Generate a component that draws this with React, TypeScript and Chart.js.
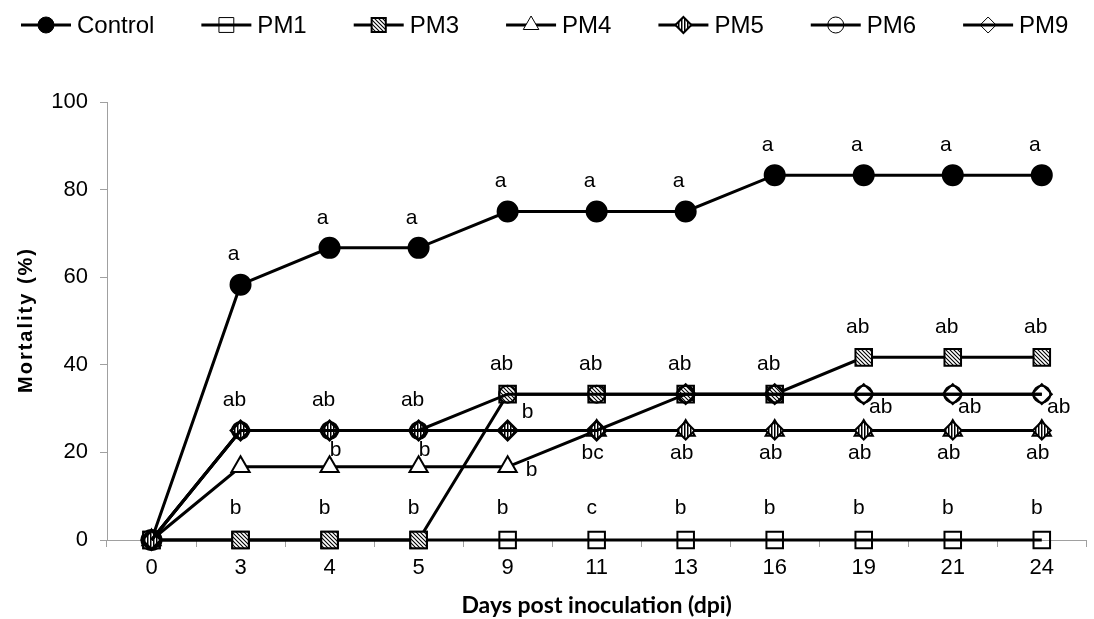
import React, { useEffect, useRef } from 'react';
import { Chart, registerables } from 'chart.js';

Chart.register(...registerables);

// ---------- data ----------
const categories = ['0', '3', '4', '5', '9', '11', '13', '16', '19', '21', '24'];
const seriesNames = ['Control', 'PM1', 'PM3', 'PM4', 'PM5', 'PM6', 'PM9'];
const control = [0, 58.3, 66.7, 66.7, 75, 75, 75, 83.3, 83.3, 83.3, 83.3];
const pm1 = [0, 0, 0, 0, 0, 0, 0, 0, 0, 0, 0];
const pm3 = [0, 0, 0, 0, 33.3, 33.3, 33.3, 33.3, 41.7, 41.7, 41.7];
const pm4 = [0, 16.7, 16.7, 16.7, 16.7, 25, 25, 25, 25, 25, 25];
const pm5 = [0, 25, 25, 25, 25, 25, 25, 25, 25, 25, 25];
const pm6 = [0, 25, 25, 25, 33.3, 33.3, 33.3, 33.3, 33.3, 33.3, 33.3];
const pm9 = [0, 25, 25, 25, 25, 25, 33.3, 33.3, 33.3, 33.3, 33.3];
const yTicks = [0, 20, 40, 60, 80, 100];

// significance letters (one entry per category)
const lettersControl = ['', 'a', 'a', 'a', 'a', 'a', 'a', 'a', 'a', 'a', 'a'];
const lettersTop = ['', 'ab', 'ab', 'ab', 'ab', 'ab', 'ab', 'ab', 'ab', 'ab', 'ab'];
const lettersZero = ['', 'b', 'b', 'b', 'b', 'c', 'b', 'b', 'b', 'b', 'b'];
const lettersPM4Upper = ['', '', 'b', 'b', '', '', '', '', '', '', ''];
const lettersPM5Right = ['', '', '', '', 'b', '', '', '', '', '', ''];
const lettersPM4Right = ['', '', '', '', 'b', '', '', '', '', '', ''];
const lettersPM5Below = ['', '', '', '', '', 'bc', 'ab', 'ab', 'ab', 'ab', 'ab'];
const lettersPM9Below = ['', '', '', '', '', '', '', '', 'ab', 'ab', 'ab'];

const xTitle = 'Days post inoculation (dpi)';
const yTitle = 'Mortality (%)';

const seriesValues = [control, pm1, pm3, pm4, pm5, pm6, pm9];

const FONT = '"Liberation Sans", Arial, sans-serif';

function makePattern(kind: string): CanvasPattern | string {
  const c = document.createElement('canvas');
  const g = c.getContext('2d');
  if (!g) return '#888';
  if (kind === 'diag') {
    c.width = 4; c.height = 4;
    g.fillStyle = '#fff'; g.fillRect(0, 0, 4, 4);
    g.strokeStyle = '#000'; g.lineWidth = 1.1;
    g.beginPath();
    g.moveTo(-1, -1); g.lineTo(5, 5);
    g.moveTo(3, -1); g.lineTo(5, 1);
    g.moveTo(-1, 3); g.lineTo(1, 5);
    g.stroke();
  } else {
    c.width = 3; c.height = 3;
    g.fillStyle = '#fff'; g.fillRect(0, 0, 3, 3);
    g.fillStyle = '#000'; g.fillRect(0, 0, 1.5, 3);
  }
  return g.createPattern(c, 'repeat') || '#888';
}

function drawMarker(ctx: CanvasRenderingContext2D, style: string, x: number, y: number, r: number, fill: any, lw: number) {
  ctx.save();
  ctx.beginPath();
  if (style === 'circle') {
    ctx.arc(x, y, r, 0, Math.PI * 2);
  } else if (style === 'rect') {
    const s = r * Math.SQRT1_2;
    ctx.rect(x - s, y - s, 2 * s, 2 * s);
  } else if (style === 'rectRot') {
    ctx.moveTo(x, y - r); ctx.lineTo(x + r, y); ctx.lineTo(x, y + r); ctx.lineTo(x - r, y); ctx.closePath();
  } else if (style === 'triangle') {
    ctx.moveTo(x, y - r);
    ctx.lineTo(x + r * Math.sin(Math.PI * 2 / 3), y - r * Math.cos(Math.PI * 2 / 3));
    ctx.lineTo(x - r * Math.sin(Math.PI * 2 / 3), y - r * Math.cos(Math.PI * 2 / 3));
    ctx.closePath();
  }
  if (fill && fill !== 'transparent') { ctx.fillStyle = fill; ctx.fill(); }
  ctx.lineWidth = lw; ctx.strokeStyle = '#000'; ctx.stroke();
  ctx.restore();
}

export default function App() {
  const ref = useRef<HTMLCanvasElement>(null);

  useEffect(() => {
    const canvas = ref.current;
    if (!canvas) return;
    const diag = makePattern('diag');
    const vert = makePattern('vert');

    const markerStyles = [
      { style: 'circle', r: 10, fill: '#000', lr: 8, llw: 1 },
      { style: 'rect', r: 11.7, fill: 'transparent', lr: 10.5, llw: 1 },
      { style: 'rect', r: 11.7, fill: diag, lr: 10, llw: 2 },
      { style: 'triangle', r: 10.5, fill: '#fff', lr: 9, llw: 1 },
      { style: 'rectRot', r: 9, fill: vert, lr: 8, llw: 2 },
      { style: 'circle', r: 8.5, fill: 'transparent', lr: 8, llw: 1 },
      { style: 'rectRot', r: 10, fill: 'transparent', lr: 8, llw: 1 },
    ];

    const datasets = seriesNames.map((name, i) => ({
      label: name,
      data: seriesValues[i],
      borderColor: '#000',
      borderWidth: 3,
      tension: 0,
      fill: false,
      clip: false as any,
      order: -i,
      pointStyle: markerStyles[i].style as any,
      pointRadius: markerStyles[i].r,
      pointBackgroundColor: markerStyles[i].fill as any,
      pointBorderColor: '#000',
      pointBorderWidth: 2,
      pointHoverRadius: markerStyles[i].r,
    }));

    const topOf = (i: number) => Math.max(pm1[i], pm3[i], pm4[i], pm5[i], pm6[i], pm9[i]);

    const letterRows = [
      { texts: lettersControl, anchor: (i: number) => control[i], dx: -7, dy: -30 },
      { texts: lettersTop, anchor: topOf, dx: -6, dy: -30 },
      { texts: lettersZero, anchor: (i: number) => pm1[i], dx: -5, dy: -32 },
      { texts: lettersPM4Upper, anchor: (i: number) => pm4[i], dx: 6, dy: -17 },
      { texts: lettersPM5Right, anchor: (i: number) => pm5[i], dx: 20, dy: -18 },
      { texts: lettersPM4Right, anchor: (i: number) => pm4[i], dx: 24, dy: 3 },
      { texts: lettersPM5Below, anchor: (i: number) => pm5[i], dx: -4, dy: 23 },
      { texts: lettersPM9Below, anchor: (i: number) => pm9[i], dx: 17, dy: 13 },
    ];

    const lettersPlugin = {
      id: 'letters',
      afterDatasetsDraw(chart: any) {
        const { ctx, scales } = chart;
        const xs = scales.x, ys = scales.y;
        ctx.save();
        ctx.font = `21px ${FONT}`;
        ctx.textAlign = 'center';
        ctx.textBaseline = 'middle';
        ctx.fillStyle = '#000';
        letterRows.forEach((row) => {
          row.texts.forEach((t, i) => {
            if (!t) return;
            const px = xs.getPixelForValue(i);
            const py = ys.getPixelForValue(row.anchor(i));
            ctx.fillText(t, px + row.dx, py + row.dy);
          });
        });
        ctx.restore();
      },
    };

    const decorPlugin = {
      id: 'decor',
      afterDraw(chart: any) {
        const { ctx, chartArea } = chart;
        ctx.save();
        // legend
        ctx.font = `24px ${FONT}`;
        ctx.textBaseline = 'middle';
        ctx.textAlign = 'left';
        let x0 = 21;
        const ly = 25;
        seriesNames.forEach((name, i) => {
          ctx.strokeStyle = '#000';
          ctx.lineWidth = 3;
          ctx.beginPath();
          ctx.moveTo(x0, ly); ctx.lineTo(x0 + 50, ly); ctx.stroke();
          const m = markerStyles[i];
          drawMarker(ctx, m.style, x0 + 25, ly, m.lr, m.fill, m.llw);
          ctx.fillStyle = '#000';
          ctx.fillText(name, x0 + 56, ly + 1);
          x0 = x0 + 56 + ctx.measureText(name).width + 47;
        });
        // x title
        ctx.font = `bold 23px Lato, "Open Sans", sans-serif`;
        ctx.textAlign = 'center';
        ctx.fillText(xTitle, (chartArea.left + chartArea.right) / 2, 606);
        // y title
        ctx.translate(26, (chartArea.top + chartArea.bottom) / 2);
        ctx.rotate(-Math.PI / 2);
        ctx.font = `bold 20px ${FONT}`;
        (ctx as any).letterSpacing = '2px';
        ctx.fillText(yTitle, 1, 0);
        ctx.restore();
      },
    };

    const chart = new Chart(canvas, {
      type: 'line',
      data: { labels: categories, datasets: datasets as any },
      options: {
        responsive: false,
        animation: false,
        events: [],
        layout: { padding: { top: 102, right: 2, left: 0, bottom: 0 } },
        plugins: { legend: { display: false }, tooltip: { enabled: false } },
        scales: {
          x: {
            type: 'category',
            offset: true,
            grid: { offset: true, drawOnChartArea: false, drawTicks: true, tickLength: 7, color: '#a0a0a0' },
            border: { color: '#a0a0a0', width: 1 },
            ticks: { font: { family: FONT, size: 22 }, color: '#000', padding: 8, maxRotation: 0, autoSkip: false },
            afterFit: (s: any) => { s.height = 79; },
          },
          y: {
            min: yTicks[0],
            max: yTicks[yTicks.length - 1],
            ticks: { stepSize: yTicks[1] - yTicks[0], font: { family: FONT, size: 22 }, color: '#000', padding: 12 },
            grid: { drawOnChartArea: false, drawTicks: true, tickLength: 7, color: '#a0a0a0' },
            border: { color: '#a0a0a0', width: 1 },
            afterFit: (s: any) => { s.width = 107; },
          },
        },
      },
      plugins: [lettersPlugin, decorPlugin],
    });
    return () => chart.destroy();
  }, []);

  return (
    <div style={{ position: 'fixed', left: 0, top: 0, width: 1094, height: 619, overflow: 'hidden', background: '#fff' }}>
      <canvas ref={ref} width={1100} height={619} style={{ display: 'block' }} />
    </div>
  );
}
